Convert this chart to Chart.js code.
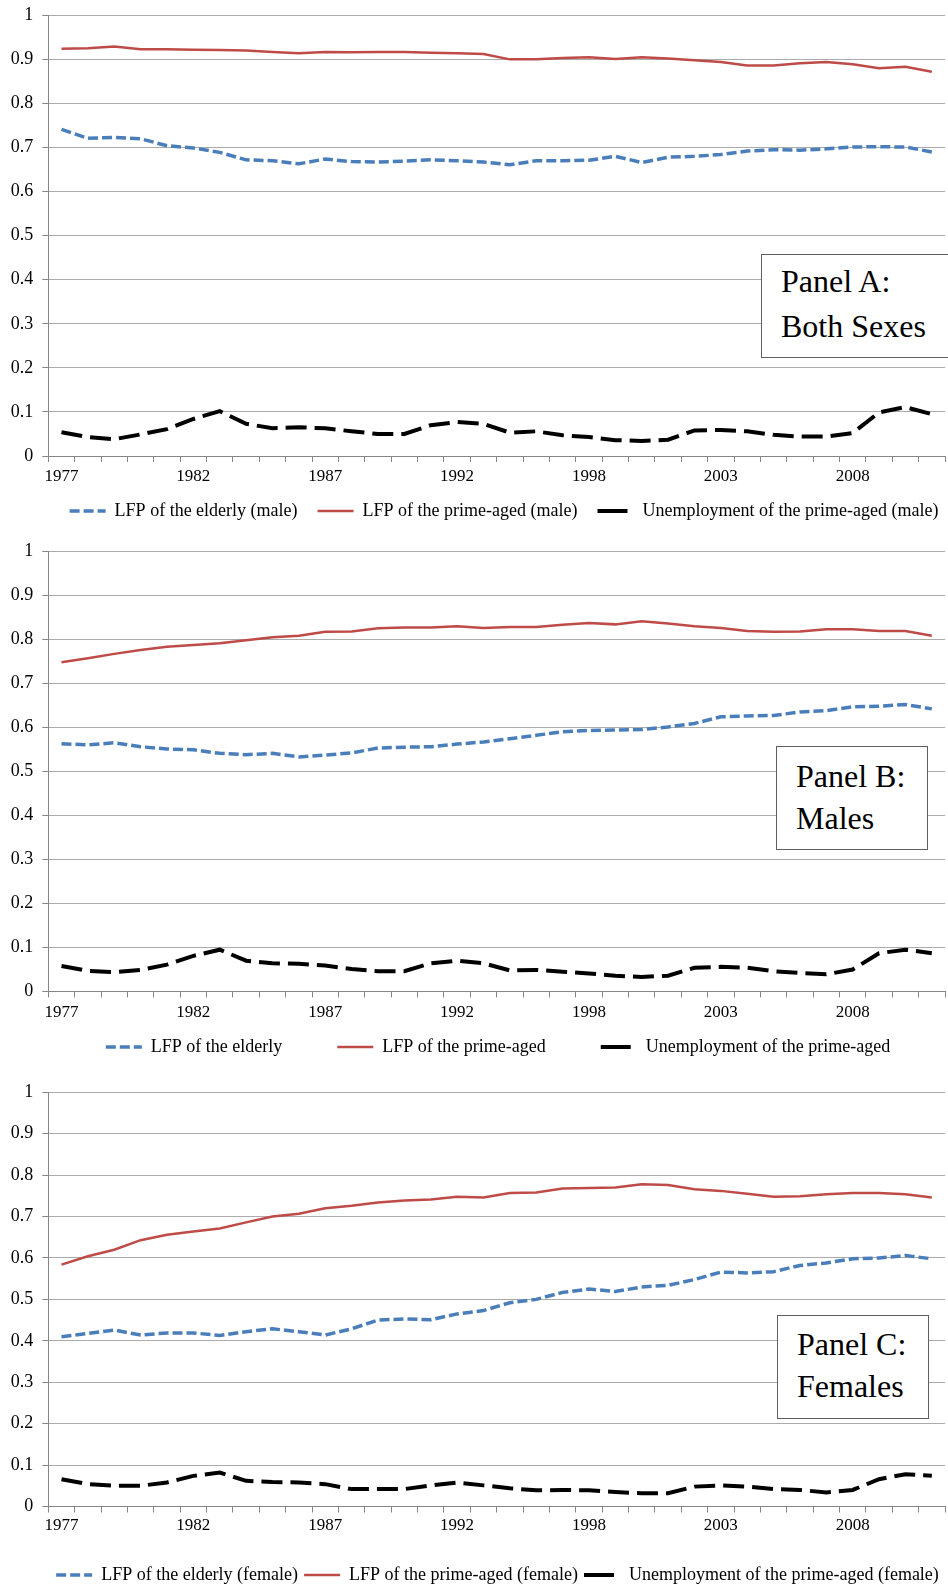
<!DOCTYPE html>
<html>
<head>
<meta charset="utf-8">
<script src="https://cdn.jsdelivr.net/npm/chart.js@4.4.1/dist/chart.umd.min.js"></script>
<style>
  html, body { margin: 0; padding: 0; background: #fff; }
  body { width: 948px; height: 1589px; position: relative; overflow: hidden; }
  canvas { position: absolute; left: 0; }
  .panel-box {
    position: absolute; background: #fff; border: 1.5px solid #5f5f5f; box-sizing: border-box;
    font-family: 'Liberation Serif', 'Times New Roman', serif; font-size: 32px; color: #000;
    padding-left: 19px; z-index: 5; white-space: nowrap;
  }
</style>
</head>
<body>
<canvas id="panel-a" width="948" height="560" style="top:0px"></canvas>
<canvas id="panel-b" width="948" height="600" style="top:530px"></canvas>
<canvas id="panel-c" width="948" height="529" style="top:1060px"></canvas>

<div class="panel-box" style="left:761px; top:254px; width:200px; height:104px; line-height:45px; padding-top:4px">Panel A:<br>Both Sexes</div>
<div class="panel-box" style="left:776px; top:746px; width:152px; height:104px; line-height:42px; padding-top:8px">Panel B:<br>Males</div>
<div class="panel-box" style="left:777px; top:1315px; width:152px; height:104px; line-height:42px; padding-top:7px">Panel C:<br>Females</div>

<script>
/* categories (one year missing between 1992 and 1998 on the original axis) */
const years = ['1977','1978','1979','1980','1981','1982','1983','1984','1985','1986','1987','1988',
               '1989','1990','1991','1992','1993','1994','1995','1997','1998','1999','2000','2001',
               '2002','2003','2004','2005','2006','2007','2008','2009','2010','2011'];
const yTickLabels = ['0','0.1','0.2','0.3','0.4','0.5','0.6','0.7','0.8','0.9','1'];

/* Panel A: both sexes */
const elderlyA = [0.741,0.721,0.723,0.720,0.704,0.699,0.689,0.672,0.670,0.663,0.674,0.668,0.667,0.669,0.672,0.670,
                  0.667,0.661,0.670,0.670,0.671,0.680,0.666,0.678,0.680,0.684,0.692,0.695,0.694,0.697,0.701,0.702,0.701,0.690];
const primeA   = [0.924,0.925,0.929,0.923,0.923,0.922,0.921,0.920,0.917,0.914,0.917,0.916,0.917,0.917,0.915,0.914,
                  0.912,0.900,0.900,0.903,0.905,0.901,0.905,0.902,0.898,0.894,0.886,0.886,0.891,0.894,0.889,0.880,0.883,0.872];
const unempA   = [0.054,0.043,0.038,0.049,0.061,0.084,0.102,0.073,0.063,0.065,0.063,0.056,0.050,0.050,0.070,0.077,
                  0.073,0.053,0.056,0.047,0.043,0.036,0.034,0.037,0.058,0.059,0.056,0.048,0.044,0.044,0.052,0.099,0.111,0.095];

/* Panel B: males */
const elderlyB = [0.563,0.560,0.565,0.556,0.551,0.549,0.541,0.538,0.541,0.533,0.537,0.542,0.553,0.555,0.556,0.562,
                  0.567,0.574,0.582,0.590,0.593,0.594,0.595,0.601,0.609,0.624,0.626,0.627,0.635,0.638,0.647,0.648,0.652,0.642];
const primeB   = [0.748,0.757,0.767,0.776,0.783,0.787,0.791,0.798,0.805,0.808,0.817,0.818,0.825,0.827,0.827,0.830,
                  0.826,0.828,0.828,0.833,0.837,0.834,0.841,0.836,0.830,0.826,0.819,0.817,0.818,0.823,0.823,0.819,0.819,0.808];
const unempB   = [0.058,0.047,0.044,0.049,0.061,0.081,0.095,0.070,0.064,0.063,0.059,0.051,0.046,0.046,0.064,0.070,
                  0.064,0.048,0.049,0.045,0.041,0.036,0.033,0.036,0.054,0.056,0.054,0.046,0.042,0.039,0.050,0.087,0.095,0.087];

/* Panel C: females */
const elderlyC = [0.410,0.418,0.426,0.414,0.419,0.419,0.413,0.422,0.429,0.422,0.414,0.429,0.450,0.453,0.451,0.465,
                  0.473,0.492,0.500,0.517,0.525,0.519,0.530,0.534,0.548,0.566,0.564,0.567,0.582,0.588,0.598,0.600,0.606,0.598];
const primeC   = [0.584,0.604,0.620,0.643,0.656,0.664,0.671,0.686,0.700,0.707,0.720,0.726,0.734,0.739,0.741,0.748,
                  0.746,0.757,0.758,0.768,0.769,0.770,0.778,0.776,0.766,0.762,0.755,0.748,0.749,0.754,0.757,0.757,0.754,0.746];
const unempC   = [0.066,0.054,0.050,0.050,0.058,0.074,0.082,0.062,0.059,0.058,0.054,0.042,0.042,0.042,0.051,0.058,
                  0.051,0.044,0.039,0.040,0.039,0.035,0.032,0.032,0.048,0.051,0.048,0.042,0.040,0.034,0.040,0.066,0.078,0.074];

const SERIF = "'Liberation Serif', 'Times New Roman', serif";
Chart.defaults.font.family = SERIF;
Chart.defaults.color = '#000';

/* moves the legend row to a given text centre (canvas coords) after layout */
const placeLegend = {
  id: 'placeLegend',
  afterLayout(chart, args, o) {
    const lg = chart.legend;
    if (!lg) return;
    const pad = lg.options.labels.padding;
    const dy = o.y - (lg.top + pad + 9);
    const dx = o.x - (lg.left + lg.right) / 2;
    lg.top += dy; lg.bottom += dy;
    lg.left += dx; lg.right += dx;
  }
};

function makePanel(id, p) {
  const ctx = document.getElementById(id);
  return new Chart(ctx, {
    type: 'line',
    data: {
      labels: years,
      datasets: [
        { label: p.names[0], data: p.elderly, borderColor: '#4A7EBB', borderWidth: 3.5, borderDash: [10, 4] },
        { label: p.names[1], data: p.prime,   borderColor: '#BE4B48', borderWidth: 2.5 },
        { label: p.names[2], data: p.unemp,   borderColor: '#000000', borderWidth: 4, borderDash: [21, 8] },
      ].map(d => Object.assign(d, { fill: false, tension: 0, pointRadius: 0, pointHoverRadius: 0 })),
    },
    options: {
      responsive: false,
      devicePixelRatio: 1,
      animation: false,
      events: [],
      layout: { padding: { top: p.top, right: 3, bottom: 0, left: 0 } },
      plugins: {
        tooltip: { enabled: false },
        placeLegend: p.legendPos,
        legend: {
          position: 'bottom',
          labels: {
            font: { family: SERIF, size: 18 },
            color: '#000',
            usePointStyle: true,
            pointStyleWidth: 36,
            padding: p.legendGap,
            generateLabels(chart) {
              const items = Chart.defaults.plugins.legend.labels.generateLabels(chart);
              items.forEach(it => {
                const ds = chart.data.datasets[it.datasetIndex];
                it.pointStyle = 'line';
                it.strokeStyle = ds.borderColor;
                it.lineWidth = ds.borderWidth;
                it.lineDash = it.datasetIndex === 2 ? [30, 60] : (ds.borderDash || []);
              });
              return items;
            },
          },
        },
      },
      scales: {
        x: {
          offset: true,
          afterFit: s => { s.height = p.xHeight; },
          grid: { offset: true, drawOnChartArea: false, drawTicks: true, tickLength: 6, color: '#868686' },
          border: { color: '#868686' },
          ticks: {
            autoSkip: false, maxRotation: 0, padding: p.xPad,
            font: { family: SERIF, size: 17 },
            callback: (v, i) => (i % 5 === 0 ? years[i] : ''),
          },
        },
        y: {
          min: 0, max: 1,
          afterFit: s => { s.width = 48.3; s.paddingTop = 0; s.paddingBottom = 0; },
          grid: { color: '#ababab', tickLength: 6, tickColor: '#868686' },
          border: { color: '#868686' },
          ticks: {
            stepSize: 0.1, padding: 9,
            font: { family: SERIF, size: 18 },
            callback: (v, i) => yTickLabels[i],
          },
        },
      },
    },
    plugins: [placeLegend],
  });
}

makePanel('panel-a', {
  elderly: elderlyA, prime: primeA, unemp: unempA,
  names: ['LFP of the elderly (male)', 'LFP of the prime-aged (male)', 'Unemployment of the prime-aged (male)'],
  top: 15.3, xHeight: 56, xPad: 4, legendGap: 20, legendPos: { x: 504, y: 511 },
});
makePanel('panel-b', {
  elderly: elderlyB, prime: primeB, unemp: unempB,
  names: ['LFP of the elderly', 'LFP of the prime-aged', 'Unemployment of the prime-aged'],
  top: 21.3, xHeight: 55.5, xPad: 5, legendGap: 55, legendPos: { x: 498, y: 517 },
});
makePanel('panel-c', {
  elderly: elderlyC, prime: primeC, unemp: unempC,
  names: ['LFP of the elderly (female)', 'LFP of the prime-aged (female)', 'Unemployment of the prime-aged (female)'],
  top: 32.3, xHeight: 48.5, xPad: 3, legendGap: 6, legendPos: { x: 497.5, y: 515 },
});
</script>
</body>
</html>
